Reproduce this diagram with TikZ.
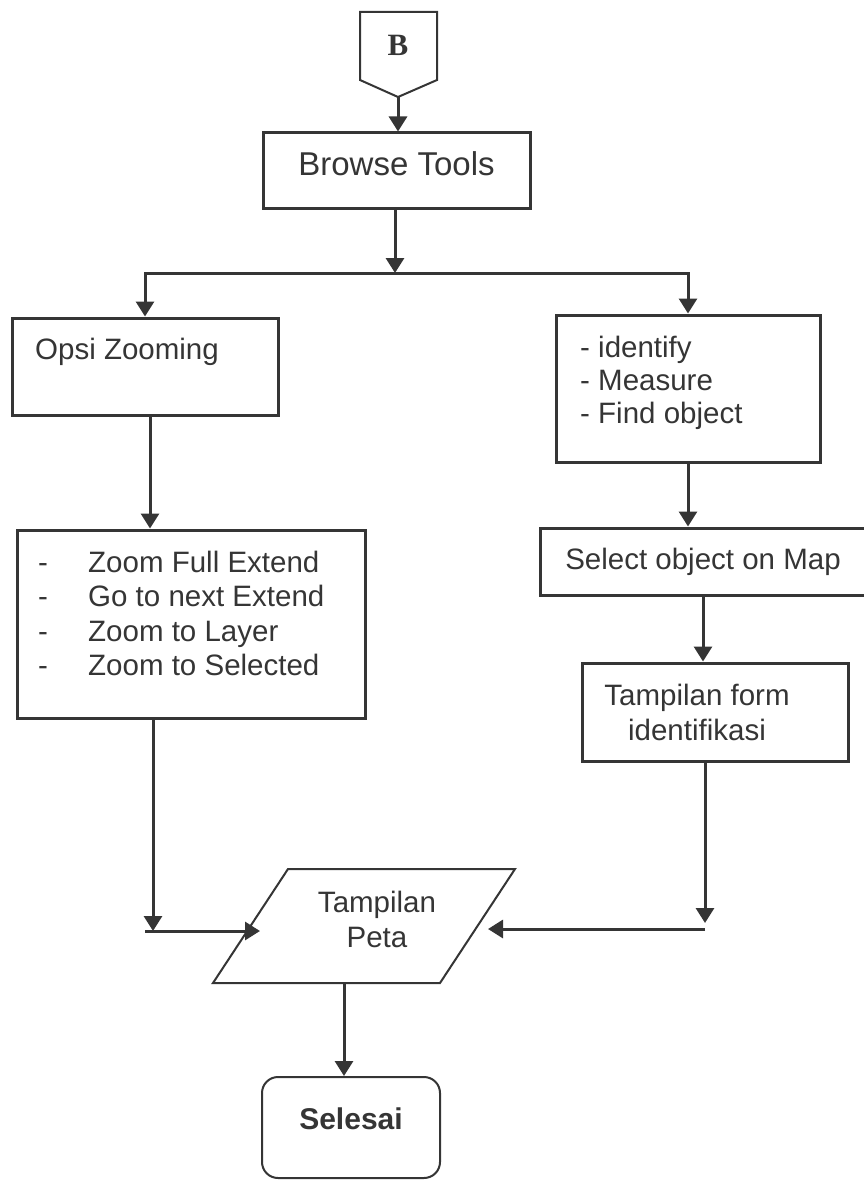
\documentclass[tikz,border=0pt]{standalone}
\usepackage{fontspec}
\setmainfont{Liberation Sans}
\newfontfamily\connfont{Liberation Serif}
\usetikzlibrary{arrows.meta}
\usetikzlibrary{positioning}
\definecolor{ink}{HTML}{353535}
\tikzset {
  flow path/.style = {
    draw = ink,
    line width = 3pt
  },
  % path style with an arrow at the end
  arr/.style = {
    flow path,
    -{Triangle[width=18pt,length=15pt]}
  },
  % path style with no arrows
  narr/.style = {
    flow path
  }
}
\tikzset {
  flow node/.style = {
    draw = ink,
    text = ink,
    inner sep = 0
  },
  % process step
  proc/.style = {
    flow node,
    rectangle,
    line width = 3pt
  },
  % end of the flow
  endbox/.style = {
    flow node,
    rectangle,
    rounded corners = 16pt,
    line width = 2pt,
    font = \bfseries\fontsize{30}{36}\selectfont
  },
  % thin outline (connector, input/output)
  thin shape/.style = {
    draw = ink,
    line width = 2pt
  },
  % text set inside a shape
  txt/.style = {
    text = ink,
    inner sep = 0,
    align = left
  }
}

\begin{document}
\begin{tikzpicture}[x=1pt, y=-1pt, font=\fontsize{29.5}{34}\selectfont]
    \useasboundingbox (0,0) rectangle (863,1180);

    % off-page connector
    \node[txt, font=\connfont\bfseries\fontsize{31}{36}\selectfont] (b) at (398,45) {B};
    \draw[thin shape] (360,12) -- (437,12) -- (437,80) -- (398,97) -- (360,80) -- cycle;
    \coordinate (b-tip) at (398,97);

    \node[proc, minimum width=267pt, minimum height=75pt, text depth=14pt,
      font=\fontsize{33}{40}\selectfont] (browse) at (396.5,170.5) {Browse Tools};
    \coordinate (fork) at (395,273);

    \node[proc, minimum width=266pt, minimum height=97pt] (zoom) at (145,366.5) {};
    \node[txt, anchor=base west] (zoom-text) at (35,359) {Opsi Zooming};
    \coordinate[xshift=5pt] (zoom-out) at (zoom.south);

    \node[proc, minimum width=348pt, minimum height=188pt] (zoomlist) at (191,624) {};
    \node[txt, anchor=north west, font=\fontsize{29.5}{34.3}\selectfont] (zoomlist-text) at (38,551)
      {\makebox[50pt][l]{-}Zoom Full Extend\\
       \makebox[50pt][l]{-}Go to next Extend\\
       \makebox[50pt][l]{-}Zoom to Layer\\
       \makebox[50pt][l]{-}Zoom to Selected};

    \node[proc, minimum width=264pt, minimum height=147pt] (tools) at (688,388.5) {};
    \node[txt, anchor=north west, font=\fontsize{29.5}{33}\selectfont] (tools-text) at (580,336)
      {- identify\\- Measure\\- Find object};

    \node[proc, minimum width=326pt, minimum height=67pt] (select) at (703,561.5) {Select object on Map};

    \node[proc, minimum width=266pt, minimum height=98pt] (form) at (715,712) {};
    \node[txt, align=center, font=\fontsize{29.5}{35}\selectfont] (form-text) at (697,712)
      {Tampilan form\\identifikasi};

    % input/output
    \draw[thin shape] (288,869) -- (515,869) -- (440,983) -- (213,983) -- cycle;
    \node[txt, align=center, font=\fontsize{29.5}{35}\selectfont] (peta) at (377,919) {Tampilan\\Peta};
    \coordinate (peta-in-left) at (260,931);
    \coordinate (peta-in-right) at (488,929);
    \coordinate (peta-out) at (344,983);

    \node[endbox, minimum width=178pt, minimum height=101pt, text depth=18pt] (selesai) at (351,1127.5) {Selesai};

    \coordinate (left-corner) at (153,931);
    \coordinate (right-corner) at (705,929);

    \draw[arr] (b-tip) -- (b-tip |- browse.north);
    \draw[arr] (browse.south -| fork) -- (fork);
    \draw[arr] (fork) -| (zoom.north);
    \draw[arr] (fork) -| (tools.north);

    \draw[arr] (zoom-out) -- (zoom-out |- zoomlist.north);
    \draw[arr] (zoomlist.south -| left-corner) -- (left-corner);
    \draw[arr] ([xshift=-8pt]left-corner) -- (peta-in-left);

    \draw[arr] (tools.south) -- (tools.south |- select.north);
    \draw[arr] (select.south) -- (select.south |- form.north);
    \draw[arr] (form.south -| right-corner) -- ([yshift=6pt]right-corner);
    \draw[arr] (right-corner) -- (peta-in-right);

    \draw[arr] (peta-out) -- (peta-out |- selesai.north);
  \end{tikzpicture}
\end{document}
